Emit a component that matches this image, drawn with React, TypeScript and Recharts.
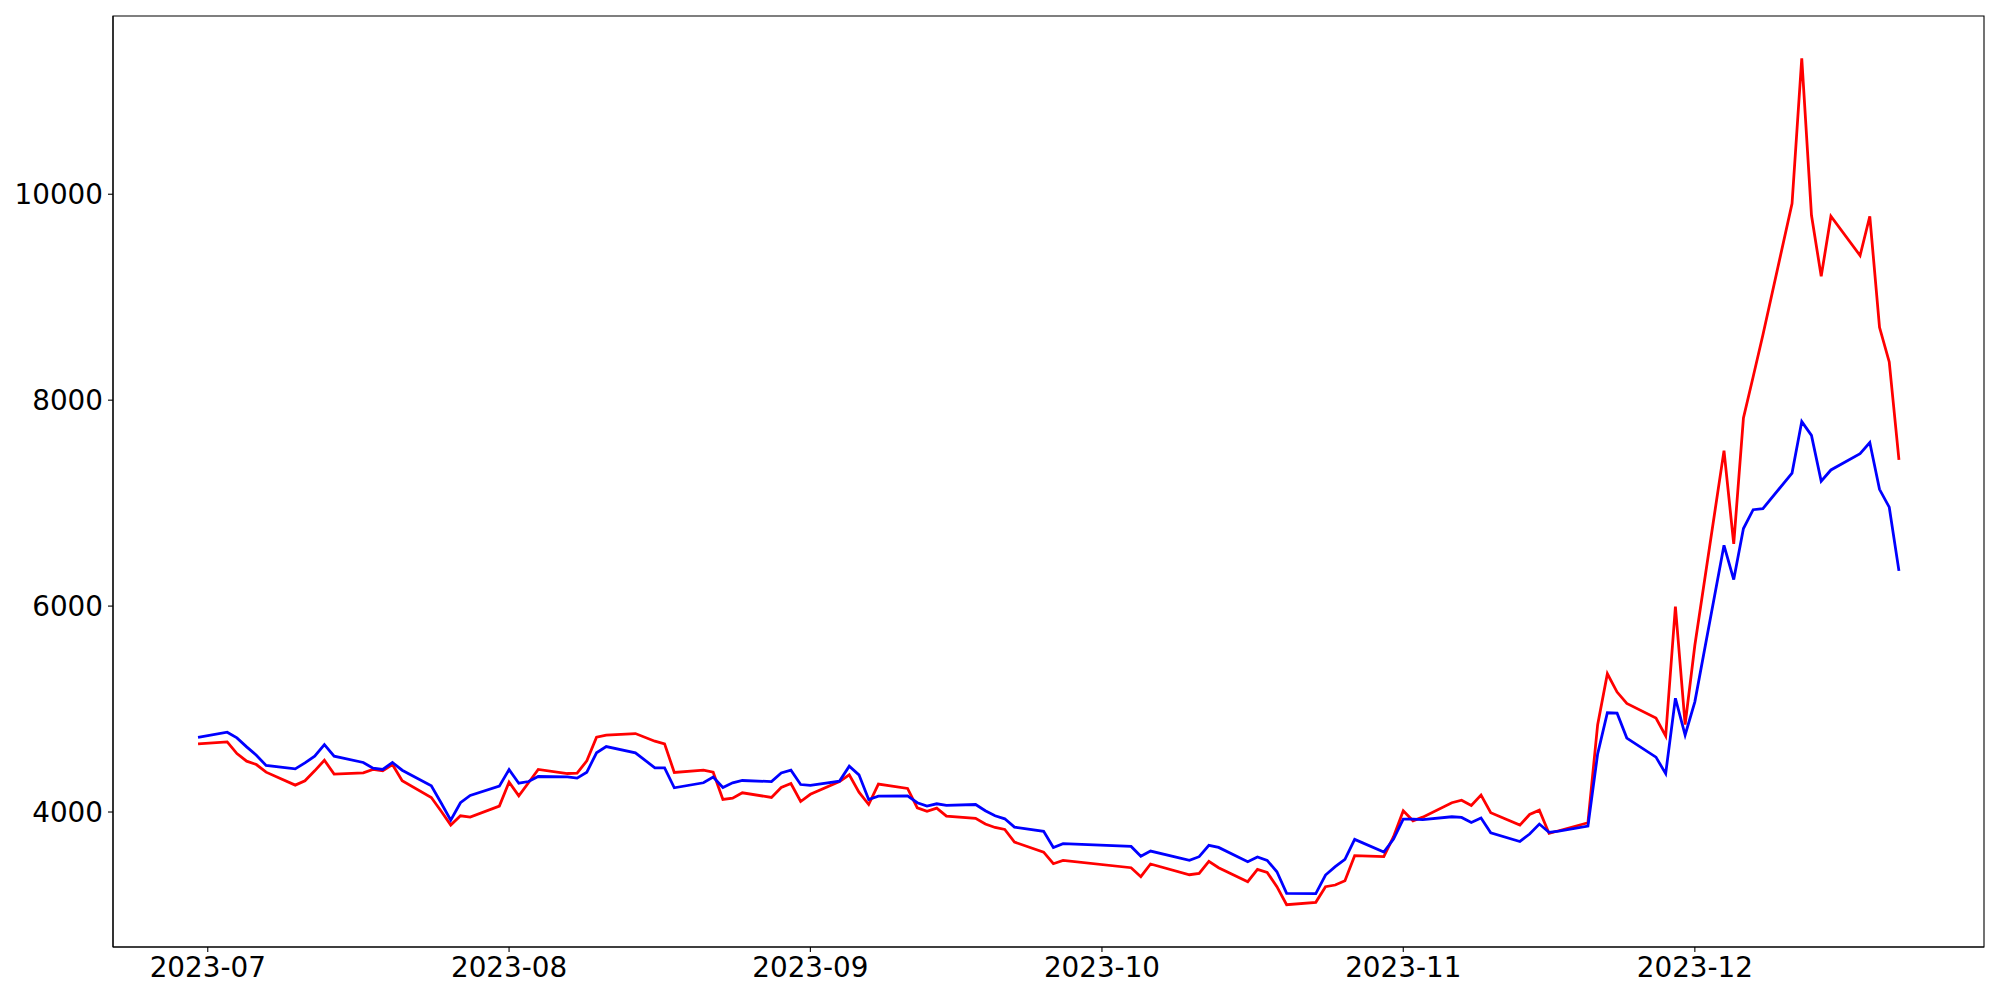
import React from "react";
import { LineChart, Line, XAxis, YAxis, ReferenceArea } from "recharts";

const dates: string[] = [
  "2023-06-30",
  "2023-07-03", "2023-07-04", "2023-07-05", "2023-07-06", "2023-07-07",
  "2023-07-10", "2023-07-11", "2023-07-12", "2023-07-13", "2023-07-14",
  "2023-07-17", "2023-07-18", "2023-07-19", "2023-07-20", "2023-07-21",
  "2023-07-24", "2023-07-25", "2023-07-26", "2023-07-27", "2023-07-28",
  "2023-07-31", "2023-08-01", "2023-08-02", "2023-08-03", "2023-08-04",
  "2023-08-07", "2023-08-08", "2023-08-09", "2023-08-10", "2023-08-11",
  "2023-08-14", "2023-08-16", "2023-08-17", "2023-08-18",
  "2023-08-21", "2023-08-22", "2023-08-23", "2023-08-24", "2023-08-25",
  "2023-08-28", "2023-08-29", "2023-08-30", "2023-08-31", "2023-09-01",
  "2023-09-04", "2023-09-05", "2023-09-06", "2023-09-07", "2023-09-08",
  "2023-09-11", "2023-09-12", "2023-09-13", "2023-09-14", "2023-09-15",
  "2023-09-18", "2023-09-19", "2023-09-20", "2023-09-21", "2023-09-22",
  "2023-09-25", "2023-09-26", "2023-09-27",
  "2023-10-04", "2023-10-05", "2023-10-06",
  "2023-10-10", "2023-10-11", "2023-10-12", "2023-10-13",
  "2023-10-16", "2023-10-17", "2023-10-18", "2023-10-19", "2023-10-20",
  "2023-10-23", "2023-10-24", "2023-10-25", "2023-10-26", "2023-10-27",
  "2023-10-30", "2023-10-31", "2023-11-01", "2023-11-02", "2023-11-03",
  "2023-11-06", "2023-11-07", "2023-11-08", "2023-11-09", "2023-11-10",
  "2023-11-13", "2023-11-14", "2023-11-15", "2023-11-16", "2023-11-17",
  "2023-11-20", "2023-11-21", "2023-11-22", "2023-11-23", "2023-11-24",
  "2023-11-27", "2023-11-28", "2023-11-29", "2023-11-30", "2023-12-01",
  "2023-12-04", "2023-12-05", "2023-12-06", "2023-12-07", "2023-12-08",
  "2023-12-11", "2023-12-12", "2023-12-13", "2023-12-14", "2023-12-15",
  "2023-12-18", "2023-12-19", "2023-12-20", "2023-12-21", "2023-12-22",
];

const blueValues: number[] = [
  4726,
  4775, 4720, 4633, 4552, 4452,
  4419, 4477, 4542, 4655, 4542,
  4481, 4426, 4413, 4481, 4406,
  4254, 4090, 3921, 4090, 4161,
  4251, 4413, 4280, 4296, 4345,
  4342, 4329, 4387, 4575, 4636,
  4575, 4429, 4429, 4235,
  4284, 4339, 4238, 4284, 4306,
  4296, 4380, 4406, 4267, 4258,
  4300, 4445, 4361, 4122, 4154,
  4157, 4090, 4057, 4080, 4064,
  4073, 4012, 3963, 3934, 3853,
  3812, 3656, 3692,
  3666, 3570, 3621,
  3530, 3566, 3676, 3656,
  3517, 3563, 3530, 3420, 3210,
  3207, 3388, 3469, 3540, 3734,
  3611, 3737, 3931, 3931, 3927,
  3954, 3947, 3899, 3941, 3799,
  3714, 3786, 3883, 3802, 3815,
  3863, 4565, 4964, 4960, 4718,
  4533, 4373, 5105, 4748, 5070,
  6590, 6258, 6753, 6936, 6946,
  7292, 7792, 7658, 7213, 7322,
  7480, 7589, 7134, 6961, 6342,
];

const redValues: number[] = [
  4662,
  4681, 4568, 4494, 4461, 4387,
  4261, 4303, 4400, 4503, 4368,
  4380, 4413, 4400, 4461, 4303,
  4141, 4010, 3873, 3963, 3950,
  4057, 4290, 4157, 4284, 4413,
  4374, 4377, 4497, 4726, 4746,
  4762, 4688, 4662, 4384,
  4406, 4387, 4122, 4135, 4187,
  4141, 4238, 4277, 4102, 4172,
  4296, 4361, 4193, 4073, 4271,
  4229, 4041, 4006, 4038, 3960,
  3938, 3883, 3850, 3831, 3708,
  3611, 3498, 3530,
  3459, 3372, 3495,
  3391, 3404, 3521, 3459,
  3323, 3443, 3414, 3275, 3100,
  3123, 3275, 3291, 3333, 3576,
  3566, 3760, 4012, 3915, 3950,
  4090, 4115, 4064, 4164, 3993,
  3873, 3976, 4018, 3792, 3818,
  3896, 4848, 5343, 5165, 5055,
  4912, 4738, 5996, 4848, 5620,
  7510, 6604, 7827, 8227, 8633,
  9910, 11320, 9796, 9202, 9786,
  9405, 9786, 8707, 8371, 7421,
];

const monthTicks: string[] = [
  "2023-07-01", "2023-08-01", "2023-09-01", "2023-10-01", "2023-11-01", "2023-12-01",
];

const yTicks: number[] = [4000, 6000, 8000, 10000];

const toTs = (s: string): number => {
  const [y, m, d] = s.split("-").map(Number);
  return Date.UTC(y, m - 1, d);
};

const data = dates.map((d, i) => ({
  t: toTs(d),
  blue: blueValues[i],
  red: redValues[i],
}));

const tMin = data[0].t;
const tMax = data[data.length - 1].t;
const tPad = (tMax - tMin) * 0.05;
const xDomain: [number, number] = [tMin - tPad, tMax + tPad];

const allVals = [...blueValues, ...redValues];
const vMin = Math.min(...allVals);
const vMax = Math.max(...allVals);
const vPad = (vMax - vMin) * 0.05;
const yDomain: [number, number] = [vMin - vPad, vMax + vPad];

const xTickValues = monthTicks.map(toTs);

const fmtMonth = (v: number): string => {
  const dt = new Date(v);
  const m = dt.getUTCMonth() + 1;
  return `${dt.getUTCFullYear()}-${m < 10 ? "0" + m : m}`;
};

const FONT = "DejaVu Sans";
const tickStyle = { fill: "#000", fontSize: 27.8, fontFamily: FONT };

export default function App() {
  return (
    <div style={{ position: "absolute", left: 0, top: 0, background: "#fff" }}>
      <LineChart
        width={2000}
        height={1000}
        data={data}
        margin={{ top: 16, right: 16, bottom: 0, left: 0 }}
      >
        <XAxis
          dataKey="t"
          type="number"
          domain={xDomain}
          ticks={xTickValues}
          tickFormatter={fmtMonth}
          allowDataOverflow
          height={53}
          tick={tickStyle}
          tickSize={5}
          tickMargin={5}
          stroke="#000"
          strokeWidth={1.1}
          tickLine={{ stroke: "#000", strokeWidth: 1.1 }}
          axisLine={{ stroke: "#000", strokeWidth: 1.1 }}
          interval={0}
        />
        <YAxis
          type="number"
          domain={yDomain}
          ticks={yTicks}
          allowDataOverflow
          width={113}
          tick={tickStyle}
          tickSize={5}
          tickMargin={5}
          stroke="#000"
          strokeWidth={1.1}
          tickLine={{ stroke: "#000", strokeWidth: 1.1 }}
          axisLine={{ stroke: "#000", strokeWidth: 1.1 }}
          interval={0}
        />
        <ReferenceArea
          x1={xDomain[0]}
          x2={xDomain[1]}
          y1={yDomain[0]}
          y2={yDomain[1]}
          fill="none"
          stroke="#000"
          strokeWidth={1.1}
          fillOpacity={0}
        />
        <Line
          type="linear"
          dataKey="red"
          stroke="#ff0000"
          strokeWidth={2.78}
          dot={false}
          activeDot={false}
          isAnimationActive={false}
        />
        <Line
          type="linear"
          dataKey="blue"
          stroke="#0000ff"
          strokeWidth={2.78}
          dot={false}
          activeDot={false}
          isAnimationActive={false}
        />
      </LineChart>
    </div>
  );
}
